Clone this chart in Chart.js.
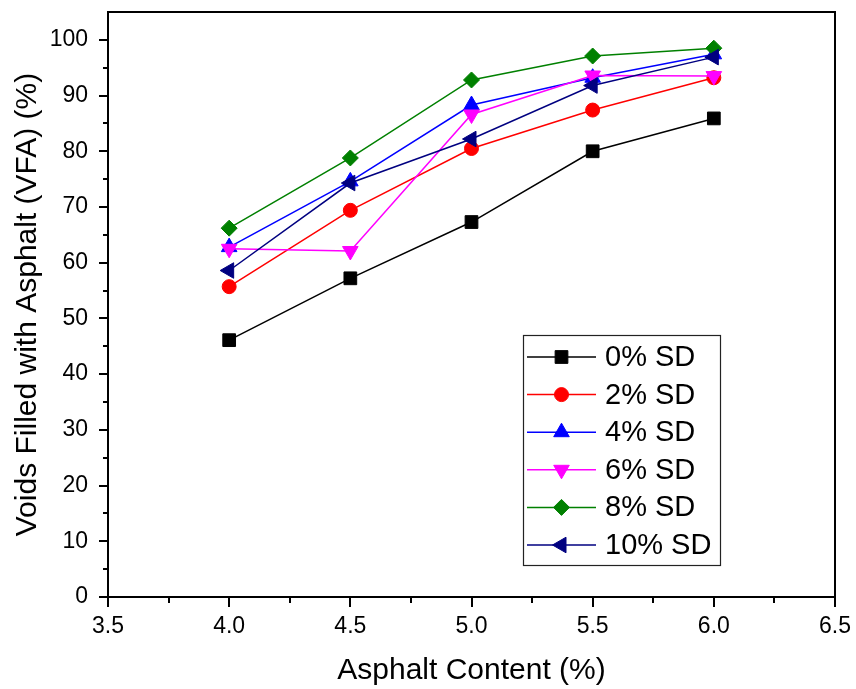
<!DOCTYPE html>
<html>
<head>
<meta charset="utf-8">
<title>VFA vs Asphalt Content</title>
<script src="https://cdn.jsdelivr.net/npm/chart.js@4/dist/chart.umd.min.js"></script>
<style>
  html, body { margin: 0; padding: 0; background: #fff; }
  #wrap { position: relative; width: 856px; height: 689px; }
</style>
</head>
<body>
<div id="wrap"><canvas id="vfaChart"></canvas></div>
<script>
// asphalt content (%)
var asphaltContent = [4.0, 4.5, 5.0, 5.5, 6.0];

// VFA (%) for each SD replacement level
var sd0 = [46.1, 57.2, 67.3, 80.0, 85.9];
var sd2 = [55.7, 69.4, 80.5, 87.4, 93.2];
var sd4 = [62.8, 74.6, 88.3, 93.2, 97.4];
var sd6 = [62.5, 62.1, 86.6, 93.6, 93.5];
var sd8 = [66.2, 78.8, 92.8, 97.1, 98.5];
var sd10 = [58.6, 74.3, 82.2, 91.8, 96.9];

var seriesLabels = ["0% SD", "2% SD", "4% SD", "6% SD", "8% SD", "10% SD"];
var seriesValues = [sd0, sd2, sd4, sd6, sd8, sd10];

var xTickMin = 3.5, xTickMax = 6.5;
var yTickMin = 0, yTickMax = 105;

var FONT = '"Liberation Sans", Arial, sans-serif';

var styles = [
  { color: "#000000", pointStyle: "rect", radius: 9, rotation: 0 },
  { color: "#ff0000", pointStyle: "circle", radius: 7, rotation: 0 },
  { color: "#0000ff", pointStyle: "triangle", radius: 9, rotation: 0 },
  { color: "#ff00ff", pointStyle: "triangle", radius: 9, rotation: 180 },
  { color: "#008000", pointStyle: "rectRot", radius: 8, rotation: 0 },
  { color: "#000080", pointStyle: "triangle", radius: 9, rotation: 270 },
];

var datasets = seriesValues.map(function (vals, i) {
  var s = styles[i];
  return {
    label: seriesLabels[i],
    data: vals.map(function (v, j) {
      return { x: asphaltContent[j], y: v };
    }),
    borderColor: s.color,
    backgroundColor: s.color,
    borderWidth: 1.5,
    pointStyle: s.pointStyle,
    pointRadius: s.radius,
    pointRotation: s.rotation,
    pointBorderWidth: 1,
    pointBorderColor: s.color,
    pointBackgroundColor: s.color,
    tension: 0,
    fill: false,
    order: seriesValues.length - 1 - i, // later series on top
  };
});

// box frame + major/minor ticks (Origin style)
var framePlugin = {
  id: "frame",
  afterDraw: function (chart) {
    var ctx = chart.ctx;
    var a = chart.chartArea;
    var xs = chart.scales.x;
    var ys = chart.scales.y;
    ctx.save();
    ctx.strokeStyle = "#000";
    ctx.lineWidth = 2;
    ctx.strokeRect(a.left, a.top, a.right - a.left, a.bottom - a.top);
    ctx.beginPath();
    ys.ticks.forEach(function (t) {
      var py = Math.round(ys.getPixelForValue(t.value));
      var len = t.value % 10 === 0 ? 9 : 5;
      ctx.moveTo(a.left - len, py);
      ctx.lineTo(a.left, py);
    });
    xs.ticks.forEach(function (t) {
      var px = Math.round(xs.getPixelForValue(t.value));
      var major = Math.abs(t.value * 2 - Math.round(t.value * 2)) < 1e-9;
      ctx.moveTo(px, a.bottom);
      ctx.lineTo(px, a.bottom + (major ? 10 : 6));
    });
    ctx.stroke();
    ctx.restore();
  },
};

// legend box: line sample with marker in the middle
var legendPlugin = {
  id: "boxLegend",
  afterDraw: function (chart, args, opts) {
    var ctx = chart.ctx;
    ctx.save();
    ctx.strokeStyle = "#222";
    ctx.lineWidth = 1.2;
    ctx.strokeRect(opts.left + 0.5, opts.top + 0.5, opts.width, opts.height);
    chart.data.datasets.forEach(function (ds, i) {
      var cy = opts.firstRow + i * opts.rowGap;
      ctx.strokeStyle = ds.borderColor;
      ctx.lineWidth = ds.borderWidth;
      ctx.beginPath();
      ctx.moveTo(opts.lineStart, cy);
      ctx.lineTo(opts.lineEnd, cy);
      ctx.stroke();
      ctx.fillStyle = ds.pointBackgroundColor;
      ctx.strokeStyle = ds.pointBorderColor;
      ctx.lineWidth = ds.pointBorderWidth;
      Chart.helpers.drawPoint(
        ctx,
        {
          pointStyle: ds.pointStyle,
          rotation: ds.pointRotation,
          radius: ds.pointRadius,
          borderWidth: ds.pointBorderWidth,
        },
        (opts.lineStart + opts.lineEnd) / 2,
        cy
      );
      ctx.fillStyle = "#000";
      ctx.font = opts.fontSize + "px " + FONT;
      ctx.textAlign = "left";
      ctx.textBaseline = "middle";
      ctx.fillText(ds.label, opts.textX, cy + 1);
    });
    ctx.restore();
  },
};

var ctx = document.getElementById("vfaChart").getContext("2d");
var vfaChart = new Chart(ctx, {
  type: "line",
  data: { datasets: datasets },
  plugins: [framePlugin, legendPlugin],
  options: {
    responsive: true,
    maintainAspectRatio: false,
    animation: false,
    layout: { padding: { top: 12, right: 21, left: 0, bottom: 0 } },
    plugins: {
      legend: { display: false },
      tooltip: { enabled: false },
      boxLegend: {
        left: 523,
        top: 335,
        width: 197,
        height: 230,
        firstRow: 357,
        rowGap: 37.6,
        lineStart: 527,
        lineEnd: 596,
        textX: 605,
        fontSize: 29,
      },
    },
    scales: {
      x: {
        type: "linear",
        min: xTickMin,
        max: xTickMax,
        border: { display: false },
        grid: {
          drawOnChartArea: false,
          drawTicks: true,
          tickLength: 9,
          tickColor: "rgba(0,0,0,0)",
        },
        ticks: {
          stepSize: 0.25,
          autoSkip: false,
          maxRotation: 0,
          padding: 7,
          color: "#000",
          font: { family: FONT, size: 23 },
          callback: function (v) {
            return Math.abs(v * 2 - Math.round(v * 2)) < 1e-9 ? v.toFixed(1) : "";
          },
        },
        title: {
          display: true,
          text: "Asphalt Content (%)",
          color: "#000",
          font: { family: FONT, size: 30 },
          padding: { top: 0, bottom: 0 },
        },
        afterFit: function (scale) {
          scale.height = 92;
          scale.paddingLeft = 0;
          scale.paddingRight = 0;
        },
      },
      y: {
        min: yTickMin,
        max: yTickMax,
        border: { display: false },
        grid: {
          drawOnChartArea: false,
          drawTicks: true,
          tickLength: 9,
          tickColor: "rgba(0,0,0,0)",
        },
        ticks: {
          stepSize: 5,
          autoSkip: false,
          padding: 11,
          color: "#000",
          font: { family: FONT, size: 23 },
          callback: function (v) {
            return v % 10 === 0 ? String(v) : "";
          },
        },
        afterBuildTicks: function (scale) {
          scale.ticks = scale.ticks.filter(function (t) {
            return t.value <= 100;
          });
        },
        title: {
          display: true,
          text: "Voids Filled with Asphalt (VFA) (%)",
          color: "#000",
          font: { family: FONT, size: 30 },
          padding: { top: 10, bottom: 0 },
        },
        afterFit: function (scale) {
          scale.width = 108;
          scale.paddingTop = 0;
          scale.paddingBottom = 0;
        },
      },
    },
  },
});
</script>
</body>
</html>
